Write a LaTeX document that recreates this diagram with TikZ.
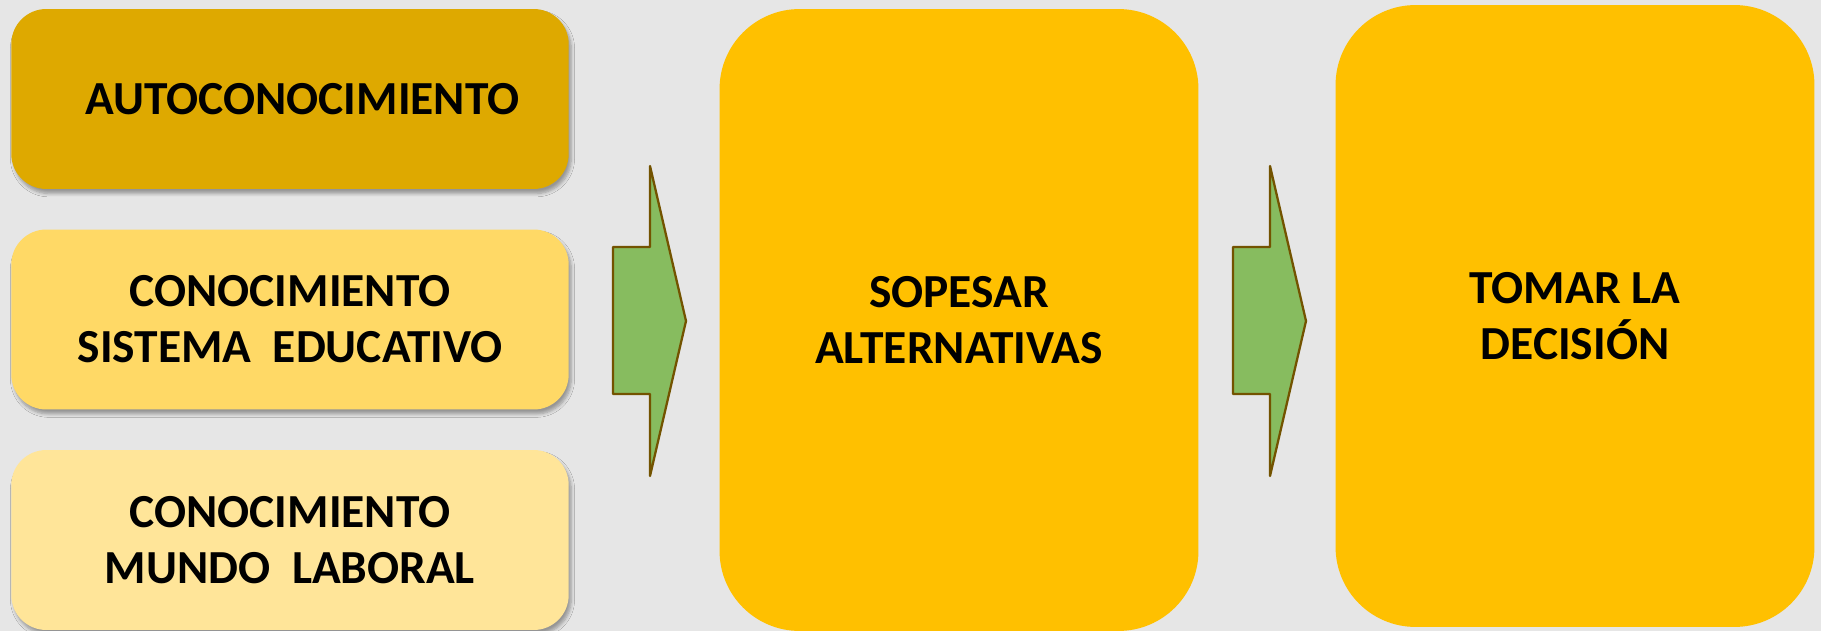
\documentclass[tikz,border=0pt]{standalone}
\usepackage{fontspec}
\setmainfont{Carlito}
\usepackage{tikz}
\usetikzlibrary{shadows.blur}

\definecolor{bg}{HTML}{E6E6E6}
\definecolor{gold}{HTML}{DEA900}
\definecolor{midyellow}{HTML}{FFD966}
\definecolor{paleyellow}{HTML}{FFE599}
\definecolor{orangey}{HTML}{FFC000}
\definecolor{arrowgreen}{HTML}{87BC5F}
\definecolor{arrowbrown}{HTML}{735300}

\begin{document}
\begin{tikzpicture}[x=0.02cm,y=-0.02cm,
        txt/.style={font=\bfseries\fontsize{27pt}{32pt}\selectfont,align=center,text=black},
        small box/.style={txt,rectangle,rounded corners=0.7cm,minimum width=11.15cm,minimum height=3.6cm,
            blur shadow={shadow xshift=0.05cm,shadow yshift=-0.09cm,shadow opacity=35,shadow blur steps=6}},
        big box/.style={txt,rectangle,rounded corners=1.6cm,fill=orangey,minimum width=9.58cm,minimum height=12.44cm},
        block arrow/.style={fill=arrowgreen,draw=arrowbrown,line width=1.3pt,line join=round}]
    \useasboundingbox[fill=bg] (0,0) rectangle (1821,631);

    % knowledge boxes
    \node[small box,fill=gold] (auto) at (290,99) {\hspace*{0.5cm}AUTOCONOCIMIENTO};
    \node[small box,fill=midyellow] (sist) at (290,319.5) {CONOCIMIENTO\\SISTEMA\ \ EDUCATIVO};
    \node[small box,fill=paleyellow] (mundo) at (290,540) {CONOCIMIENTO\\MUNDO\ \ LABORAL};

    % next steps
    \node[big box] (sopesar) at (959,320) {SOPESAR\\ALTERNATIVAS};
    \node[big box] (decision) at (1575,316) {TOMAR LA\\DECISIÓN};

    % green arrows
    \foreach \x in {613,1233}
        \draw[block arrow] (\x,247) -- ++(37,0) -- ++(0,-81) -- ++(36,155)
            -- ++(-36,155) -- ++(0,-82) -- ++(-37,0) -- cycle;
\end{tikzpicture}
\end{document}
